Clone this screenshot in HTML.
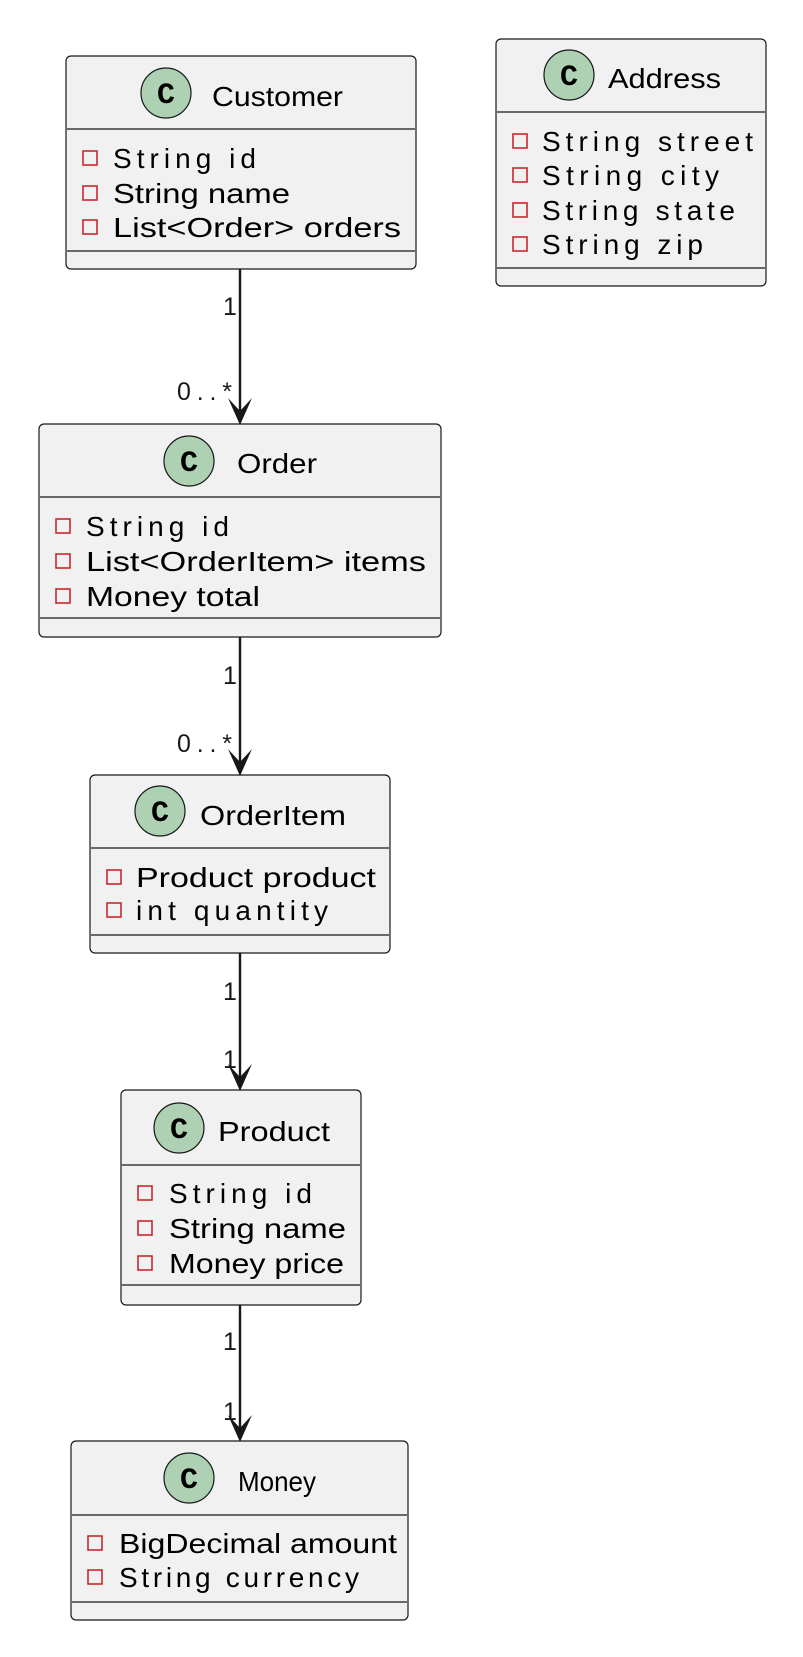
<!DOCTYPE html>
<html><head><meta charset="utf-8"><style>
html,body{margin:0;padding:0;background:#fff;}
svg{display:block;}
text{font-family:"Liberation Sans",sans-serif;fill:#000;}
.t{font-size:28px;}
.a{font-size:28px;}
.c{font-family:"Liberation Mono",monospace;font-weight:bold;font-size:30px;}
.l{font-size:25px;fill:#181818;}
</style></head><body>
<svg width="803" height="1657" viewBox="0 0 803 1657" xmlns="http://www.w3.org/2000/svg">
<g stroke="#181818" stroke-width="1.2">
<rect x="66" y="56" width="350" height="213" rx="5" fill="#f1f1f1"/>
<line x1="67" y1="129" x2="415" y2="129"/><line x1="67" y1="251" x2="415" y2="251"/>
<circle cx="166" cy="93" r="25" fill="#add1b2"/>
<rect x="496" y="39" width="270" height="247" rx="5" fill="#f1f1f1"/>
<line x1="497" y1="112" x2="765" y2="112"/><line x1="497" y1="268" x2="765" y2="268"/>
<circle cx="569" cy="75" r="25" fill="#add1b2"/>
<rect x="39" y="424" width="402" height="213" rx="5" fill="#f1f1f1"/>
<line x1="40" y1="497" x2="440" y2="497"/><line x1="40" y1="618" x2="440" y2="618"/>
<circle cx="189" cy="461" r="25" fill="#add1b2"/>
<rect x="90" y="775" width="300" height="178" rx="5" fill="#f1f1f1"/>
<line x1="91" y1="848" x2="389" y2="848"/><line x1="91" y1="935" x2="389" y2="935"/>
<circle cx="160" cy="811" r="25" fill="#add1b2"/>
<rect x="121" y="1090" width="240" height="215" rx="5" fill="#f1f1f1"/>
<line x1="122" y1="1165" x2="360" y2="1165"/><line x1="122" y1="1285" x2="360" y2="1285"/>
<circle cx="179" cy="1128" r="25" fill="#add1b2"/>
<rect x="71" y="1441" width="337" height="179" rx="5" fill="#f1f1f1"/>
<line x1="72" y1="1515" x2="407" y2="1515"/><line x1="72" y1="1602" x2="407" y2="1602"/>
<circle cx="189" cy="1478" r="25" fill="#add1b2"/>
</g>
<g text-anchor="middle">
<text class="c" x="166" y="103">C</text>
<text class="c" x="569" y="85">C</text>
<text class="c" x="189" y="471">C</text>
<text class="c" x="160" y="821">C</text>
<text class="c" x="179" y="1138">C</text>
<text class="c" x="189" y="1488">C</text>
</g>
<text class="t" x="212" y="106" textLength="131" lengthAdjust="spacingAndGlyphs">Customer</text>
<text class="t" x="608" y="88" textLength="113" lengthAdjust="spacingAndGlyphs">Address</text>
<text class="t" x="237" y="473" textLength="80" lengthAdjust="spacingAndGlyphs">Order</text>
<text class="t" x="200" y="825" textLength="146" lengthAdjust="spacingAndGlyphs">OrderItem</text>
<text class="t" x="218" y="1141" textLength="112" lengthAdjust="spacingAndGlyphs">Product</text>
<text class="t" x="238" y="1491" textLength="78" lengthAdjust="spacingAndGlyphs">Money</text>
<g fill="none" stroke="#c82930" stroke-width="1.6">
<rect x="83" y="151" width="14" height="14"/><rect x="83" y="186" width="14" height="14"/><rect x="83" y="220" width="14" height="14"/>
<rect x="513" y="134" width="14" height="14"/><rect x="513" y="168" width="14" height="14"/><rect x="513" y="203" width="14" height="14"/><rect x="513" y="237" width="14" height="14"/>
<rect x="56" y="519" width="14" height="14"/><rect x="56" y="554" width="14" height="14"/><rect x="56" y="589" width="14" height="14"/>
<rect x="107" y="870" width="14" height="14"/><rect x="107" y="903" width="14" height="14"/>
<rect x="138" y="1186" width="14" height="14"/><rect x="138" y="1221" width="14" height="14"/><rect x="138" y="1256" width="14" height="14"/>
<rect x="88" y="1536" width="14" height="14"/><rect x="88" y="1570" width="14" height="14"/>
</g>
<g>
<text class="a" x="113" y="168" textLength="143" lengthAdjust="spacing">String id</text>
<text class="a" x="113" y="203" textLength="177" lengthAdjust="spacingAndGlyphs">String name</text>
<text class="a" x="113" y="237" textLength="288" lengthAdjust="spacingAndGlyphs">List&lt;Order&gt; orders</text>
<text class="a" x="542" y="151" textLength="211" lengthAdjust="spacing">String street</text>
<text class="a" x="542" y="185" textLength="177" lengthAdjust="spacing">String city</text>
<text class="a" x="542" y="220" textLength="193" lengthAdjust="spacing">String state</text>
<text class="a" x="542" y="254" textLength="161" lengthAdjust="spacing">String zip</text>
<text class="a" x="86" y="536" textLength="143" lengthAdjust="spacing">String id</text>
<text class="a" x="86" y="571" textLength="340" lengthAdjust="spacingAndGlyphs">List&lt;OrderItem&gt; items</text>
<text class="a" x="86" y="606" textLength="174" lengthAdjust="spacingAndGlyphs">Money total</text>
<text class="a" x="136" y="887" textLength="240" lengthAdjust="spacingAndGlyphs">Product product</text>
<text class="a" x="136" y="920" textLength="192" lengthAdjust="spacing">int quantity</text>
<text class="a" x="169" y="1203" textLength="143" lengthAdjust="spacing">String id</text>
<text class="a" x="169" y="1238" textLength="177" lengthAdjust="spacingAndGlyphs">String name</text>
<text class="a" x="169" y="1273" textLength="175" lengthAdjust="spacingAndGlyphs">Money price</text>
<text class="a" x="119" y="1553" textLength="278" lengthAdjust="spacingAndGlyphs">BigDecimal amount</text>
<text class="a" x="119" y="1587" textLength="240" lengthAdjust="spacing">String currency</text>
</g>
<g stroke="#181818" stroke-width="2.4">
<line x1="240" y1="269" x2="240" y2="416"/>
<line x1="240" y1="637" x2="240" y2="767"/>
<line x1="240" y1="953" x2="240" y2="1082"/>
<line x1="240" y1="1305" x2="240" y2="1433"/>
</g>
<g fill="#181818">
<polygon points="240,425 228,398 240,411 252,398"/>
<polygon points="240,776 228,749 240,762 252,749"/>
<polygon points="240,1091 228,1064 240,1077 252,1064"/>
<polygon points="240,1442 228,1415 240,1428 252,1415"/>
</g>
<g>
<text class="l" x="223" y="315">1</text>
<text class="l" x="177" y="400" textLength="55" lengthAdjust="spacing">0..*</text>
<text class="l" x="223" y="684">1</text>
<text class="l" x="177" y="752" textLength="55" lengthAdjust="spacing">0..*</text>
<text class="l" x="223" y="1000">1</text>
<text class="l" x="223" y="1068">1</text>
<text class="l" x="223" y="1350">1</text>
<text class="l" x="223" y="1420">1</text>
</g>
</svg>
</body></html>
